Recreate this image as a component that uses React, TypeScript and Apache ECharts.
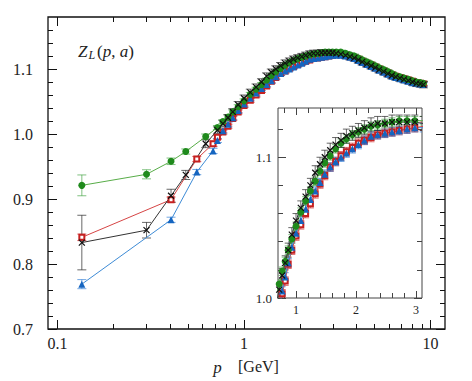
import React, { useEffect, useRef } from 'react';
import * as echarts from 'echarts';

// ---------- data ----------
const pDense = [0.72, 0.77, 0.82, 0.87, 0.93, 1.0, 1.08, 1.16, 1.24, 1.32, 1.40, 1.48, 1.57, 1.66, 1.75, 1.84, 1.94, 2.04, 2.14, 2.25, 2.36, 2.48, 2.60, 2.72, 2.85, 2.98, 3.12, 3.3, 3.5, 3.7, 3.9, 4.1, 4.3, 4.55, 4.8, 5.05, 5.3, 5.6, 5.9, 6.2, 6.5, 6.85, 7.2, 7.6, 8.0, 8.4, 8.8, 9.15];

const greenLowP = [0.135, 0.30, 0.406, 0.487, 0.623];
const greenLowZ = [0.921, 0.938, 0.958, 0.973, 0.996];
const greenLowE = [0.016, 0.007, 0.005, 0.004, 0.004];
const greenDense = [1.010, 1.019, 1.026, 1.034, 1.042, 1.051, 1.061, 1.069, 1.076, 1.083, 1.090, 1.096, 1.101, 1.106, 1.110, 1.113, 1.116, 1.118, 1.120, 1.122, 1.123, 1.124, 1.125, 1.126, 1.126, 1.126, 1.126, 1.126, 1.124, 1.122, 1.120, 1.117, 1.114, 1.111, 1.108, 1.105, 1.102, 1.099, 1.096, 1.093, 1.090, 1.088, 1.086, 1.084, 1.082, 1.080, 1.079, 1.078];
const greenDenseErr = 0.003;

const redLowP = [0.135, 0.406, 0.558, 0.682];
const redLowZ = [0.841, 0.899, 0.9615, 0.985];
const redLowE = [0.005, 0.004, 0.004, 0.004];
const redDense = [0.995, 1.003, 1.012, 1.024, 1.034, 1.044, 1.052, 1.060, 1.067, 1.074, 1.081, 1.087, 1.093, 1.097, 1.101, 1.104, 1.107, 1.110, 1.112, 1.114, 1.116, 1.117, 1.118, 1.119, 1.120, 1.121, 1.122, 1.122, 1.121, 1.119, 1.117, 1.115, 1.112, 1.109, 1.106, 1.103, 1.100, 1.097, 1.094, 1.091, 1.089, 1.087, 1.085, 1.083, 1.081, 1.079, 1.078, 1.077];
const redDenseErr = 0.003;

const blackLowP = [0.135, 0.30, 0.406, 0.487, 0.623];
const blackLowZ = [0.833, 0.852, 0.905, 0.937, 0.985];
const blackLowE = [0.042, 0.012, 0.010, 0.007, 0.006];
const blackDense = [1.006, 1.016, 1.025, 1.034, 1.045, 1.055, 1.064, 1.072, 1.080, 1.089, 1.095, 1.100, 1.105, 1.109, 1.112, 1.115, 1.117, 1.119, 1.121, 1.123, 1.124, 1.124, 1.125, 1.125, 1.125, 1.125, 1.124, 1.123, 1.121, 1.119, 1.117, 1.114, 1.111, 1.108, 1.105, 1.102, 1.099, 1.096, 1.093, 1.090, 1.088, 1.086, 1.084, 1.082, 1.080, 1.078, 1.077, 1.076];
const blackDenseErr = 0.005;

const blueLowP = [0.135, 0.406, 0.558, 0.682];
const blueLowZ = [0.769, 0.868, 0.9415, 0.974];
const blueLowE = [0.007, 0.004, 0.004, 0.004];
const blueDense = [0.990, 1.005, 1.015, 1.025, 1.036, 1.046, 1.055, 1.063, 1.070, 1.076, 1.082, 1.088, 1.093, 1.097, 1.100, 1.103, 1.106, 1.109, 1.112, 1.115, 1.116, 1.117, 1.118, 1.119, 1.120, 1.121, 1.121, 1.121, 1.120, 1.118, 1.116, 1.113, 1.110, 1.107, 1.104, 1.101, 1.098, 1.095, 1.092, 1.089, 1.087, 1.085, 1.083, 1.081, 1.079, 1.078, 1.077, 1.076];
const blueDenseErr = 0.003;

// tick values
const mainXMajor = [0.1, 1, 10];
const mainXMinor = [0.2, 0.3, 0.4, 0.5, 0.6, 0.7, 0.8, 0.9, 2, 3, 4, 5, 6, 7, 8, 9];
const mainYMajor = [0.7, 0.8, 0.9, 1.0, 1.1];
const mainYMinor = [0.72, 0.74, 0.76, 0.78, 0.82, 0.84, 0.86, 0.88, 0.92, 0.94, 0.96, 0.98, 1.02, 1.04, 1.06, 1.08, 1.12, 1.14, 1.16];
const insetXMajor = [1, 2, 3];
const insetXMinor = [0.8, 1.2, 1.4, 1.6, 1.8, 2.2, 2.4, 2.6, 2.8, 3.0];
const insetYMajor = [1.0, 1.1];
const insetYMinor = [1.02, 1.04, 1.06, 1.08, 1.12];

const FONT = 'Liberation Serif';

function buildPoints(lowP: number[], lowZ: number[], lowE: number[], dense: number[], denseErr: number) {
  const pts: number[][] = lowP.map((p, i) => [p, lowZ[i], lowE[i]]);
  pDense.forEach((p, i) => pts.push([p, dense[i], denseErr]));
  return pts;
}

function axisSet(kind: 'x' | 'y', gridIndex: number, type: string, min: number, max: number,
  major: number[], minor: number[], majLen: number, minLen: number, color: string,
  fontSize: number, margin: number, fmt: (v: number) => string, z: number) {
  const positions = kind === 'x' ? ['bottom', 'top'] : ['left', 'right'];
  const res: any[] = [];
  positions.forEach((pos, pi) => {
    [major, minor].forEach((vals, mi) => {
      const ax: any = {
        type, gridIndex, min, max, position: pos, z,
        axisLine: { show: false },
        splitLine: { show: false },
        minorTick: { show: false },
        axisPointer: { show: false },
        axisTick: { show: true, inside: true, customValues: vals, length: mi === 0 ? majLen : minLen, lineStyle: { color, width: 1 } },
        axisLabel: {
          show: pi === 0 && mi === 0, customValues: major, margin,
          fontFamily: FONT, fontSize, color: '#222', formatter: fmt,
        },
      };
      if (type === 'log') ax.logBase = 10;
      res.push(ax);
    });
  });
  return res;
}

function errRender(color: string, cap: number) {
  return (params: any, api: any) => {
    const x = api.value(0), y = api.value(1), e = api.value(2);
    const lo = api.coord([x, y - e]);
    const hi = api.coord([x, y + e]);
    const h = cap / 2;
    const style = { stroke: color, lineWidth: 1 };
    return {
      type: 'group',
      children: [
        { type: 'line', shape: { x1: lo[0], y1: lo[1], x2: hi[0], y2: hi[1] }, style },
        { type: 'line', shape: { x1: lo[0] - h, y1: lo[1], x2: lo[0] + h, y2: lo[1] }, style },
        { type: 'line', shape: { x1: hi[0] - h, y1: hi[1], x2: hi[0] + h, y2: hi[1] }, style },
      ],
    };
  };
}

const seriesDefs = [
  { name: 'red', pts: buildPoints(redLowP, redLowZ, redLowE, redDense, redDenseErr), line: '#d64545', err: 'rgba(210,50,50,0.75)', symbol: 'emptyRect', size: 5, item: { color: '#c62020', borderColor: '#c62020', borderWidth: 1 } },
  { name: 'blue', pts: buildPoints(blueLowP, blueLowZ, blueLowE, blueDense, blueDenseErr), line: '#3d8bd6', err: 'rgba(40,120,210,0.65)', symbol: 'triangle', size: 7, item: { color: '#1565c0' } },
  { name: 'green', pts: buildPoints(greenLowP, greenLowZ, greenLowE, greenDense, greenDenseErr), line: '#58ad48', err: 'rgba(60,160,60,0.65)', symbol: 'circle', size: 7, item: { color: '#1f8a1c' } },
  { name: 'black', pts: buildPoints(blackLowP, blackLowZ, blackLowE, blackDense, blackDenseErr), line: '#333', err: 'rgba(40,40,40,0.7)', symbol: 'path://M-1,-1L1,1M-1,1L1,-1', size: 6, item: { color: '#111', borderColor: '#111', borderWidth: 1.2 } },
];

export default function App() {
  const ref = useRef<HTMLDivElement>(null);
  useEffect(() => {
    if (!ref.current) return;
    const chart = echarts.init(ref.current, undefined, { renderer: 'svg' });

    const mainX = axisSet('x', 0, 'log', 0.0889, 11.95, mainXMajor, mainXMinor, 9, 5, '#111', 16, 6, (v: number) => String(v), 1);
    const mainY = axisSet('y', 0, 'value', 0.7, 1.18, mainYMajor, mainYMinor, 9, 5, '#111', 16, 15, (v: number) => v.toFixed(1), 1);
    const insetX = axisSet('x', 1, 'value', 0.7, 3.1, insetXMajor, insetXMinor, 7, 5, '#444', 12, 6, (v: number) => String(v), 8);
    const insetY = axisSet('y', 1, 'value', 1.0, 1.135, insetYMajor, insetYMinor, 8, 5, '#444', 13, 6, (v: number) => v.toFixed(1), 8);

    const series: any[] = [];
    seriesDefs.forEach((s) => {
      series.push({
        type: 'custom', xAxisIndex: 0, yAxisIndex: 0, renderItem: errRender(s.err, 9),
        data: s.pts, encode: { x: 0, y: 1 }, clip: true, z: 2, silent: true,
      });
      series.push({
        type: 'line', xAxisIndex: 0, yAxisIndex: 0, data: s.pts.map((d) => [d[0], d[1]]),
        symbol: s.symbol, symbolSize: s.size, showSymbol: true, itemStyle: s.item,
        lineStyle: { color: s.line, width: 1 }, z: 3, silent: true,
      });
    });
    seriesDefs.forEach((s) => {
      series.push({
        type: 'custom', xAxisIndex: 4, yAxisIndex: 4, renderItem: errRender(s.err, 7),
        data: s.pts, encode: { x: 0, y: 1 }, clip: true, z: 8, silent: true,
      });
      series.push({
        type: 'line', xAxisIndex: 4, yAxisIndex: 4, data: s.pts.map((d) => [d[0], d[1]]),
        symbol: s.symbol, symbolSize: s.size, showSymbol: true, itemStyle: s.item,
        lineStyle: { color: s.line, width: 1 }, z: 9, clip: true, silent: true,
      });
    });

    const option: any = {
      animation: false,
      backgroundColor: '#fff',
      grid: [
        { left: 48, top: 17, width: 397, height: 312, show: true, borderColor: '#111', borderWidth: 1.3, backgroundColor: 'transparent', z: 1 },
        { left: 278, top: 108, width: 144, height: 190, show: true, borderColor: '#444', borderWidth: 1, backgroundColor: 'transparent', z: 8 },
      ],
      xAxis: [...mainX, ...insetX],
      yAxis: [...mainY, ...insetY],
      graphic: [
        { type: 'rect', z: 5, silent: true, shape: { x: 278, y: 108, width: 144, height: 190 }, style: { fill: '#fff' } },
        { type: 'text', z: 10, x: 78, y: 51, style: { text: 'Z', fontFamily: FONT, fontSize: 17, fontStyle: 'italic', fill: '#222', verticalAlign: 'middle' } },
        { type: 'text', z: 10, x: 88.5, y: 55, style: { text: 'L', fontFamily: FONT, fontSize: 12, fontStyle: 'italic', fill: '#222', verticalAlign: 'middle' } },
        {
          type: 'text', z: 10, x: 97, y: 51,
          style: {
            text: '{u|(}{i|p}{u|, }{i|a}{u|)}', verticalAlign: 'middle', fill: '#222',
            rich: {
              u: { fontFamily: FONT, fontSize: 17, fill: '#222' },
              i: { fontFamily: FONT, fontSize: 17, fontStyle: 'italic', fill: '#222' },
            },
          },
        },
        { type: 'text', z: 10, x: 217.5, y: 367, style: { text: 'p', fontFamily: FONT, fontSize: 17, fontStyle: 'italic', fill: '#222', align: 'center', verticalAlign: 'middle' } },
        { type: 'text', z: 10, x: 238, y: 366, style: { text: '[GeV]', fontFamily: FONT, fontSize: 16, fill: '#222', verticalAlign: 'middle' } },
      ],
      series,
    };
    chart.setOption(option);
    return () => chart.dispose();
  }, []);
  return <div ref={ref} style={{ position: 'absolute', left: 0, top: 0, width: 472, height: 381 }} />;
}
